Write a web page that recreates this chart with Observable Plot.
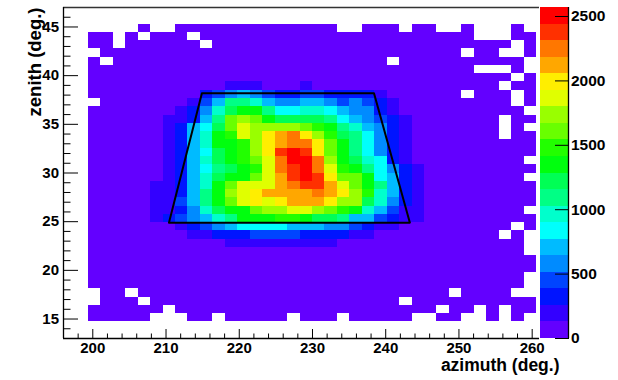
<!DOCTYPE html>
<html>
<head>
<meta charset="utf-8">
<script src="https://cdn.jsdelivr.net/npm/d3@7"></script>
<script src="https://cdn.jsdelivr.net/npm/@observablehq/plot@0.6"></script>
<style>
  html, body { margin: 0; padding: 0; background: #ffffff; }
  #chart { position: relative; width: 618px; height: 380px; font-family: "Liberation Sans", Arial, sans-serif; }
  #chart svg { position: absolute; left: 0; top: 0; overflow: visible; }
</style>
</head>
<body>
<div id="chart"></div>
<script>
// ---- histogram binning ----
const azimuthBinStart = 199.4;   // left edge of first filled column (deg.)
const azimuthBinWidth = 1.7;
const zenithBinStart = 14.7;     // lower edge of bottom row (deg.)
const zenithBinWidth = 0.85;

// ---- colour contour levels of the z axis (20 bands, 0 .. 2570) ----
const zLevels = [0, 128.5, 257, 385.5, 514, 642.5, 771, 899.5, 1028, 1156.5, 1285,
                 1413.5, 1542, 1670.5, 1799, 1927.5, 2056, 2184.5, 2313, 2441.5, 2570];
const paletteColors = ["#6300ff", "#3300ff", "#0014ff", "#0044ff", "#008bff", "#00bbff",
                       "#00fffc", "#00ffcc", "#00ff85", "#00ff55", "#00ff0e", "#22ff00",
                       "#69ff00", "#99ff00", "#e0ff00", "#ffee00", "#ffa700", "#ff7700",
                       "#ff3000", "#ff0000"];
// band code of each cell: '.' = empty bin, 0-9 then a-j = colour band 0..19
const bandCodes = "0123456789abcdefghij";

// ---- bin contents, one string per zenith row, top row first, 36 azimuth bins each ----
const zenithRows = [
  "....0. .00000 000000 00..00 0.00.. 0...0.",
  "00.0.0 00.000 000000 000000 000000 0...00",
  "00.000 000.00 000000 000000 000000 0000.0",
  ".00000 000000 000000 000000 000000 .00..0",
  "0.0000 000000 000000 000000 .00000 00000.",
  "000000 000000 000000 000000 000000 0...0.",
  "000000 000000 000000 000000 000000 0000.0",
  "000000 000001 110001 000000 000000 000.00",
  "000000 000234 543223 322221 000000 .000.0",
  ".00000 001358 875445 543432 100000 0000.0",
  "000000 012479 aa8667 765442 100000 00000.",
  "000000 11258c dca999 986543 210000 000.00",
  "000000 12569c eddddc ba8754 210000 000.0.",
  "000000 1257ab edfghf db9864 210000 000.00",
  "000000 1257aa bdfghh fca864 210000 000000",
  "000000 12569a bdfiji fca864 210000 000000",
  "000000 12579a bcehjj hda976 210000 00000.",
  "000000 125689 abehij heba86 421000 000000",
  "000000 12579a acegij ifcca6 521000 00000.",
  "000001 1257ac eeeghi igeca8 521000 000000",
  "000001 1258ad efgggg hgfdb7 521000 000000",
  "000001 1358ac efefgg gfdd97 421000 000000",
  "000001 12479a acddee dcba75 311000 00000.",
  "000001 234578 aaabba 998553 211000 000000",
  "000000 012345 666655 544321 100000 0000.0",
  "000000 001122 233332 222110 000000 000.0.",
  "000000 000001 111111 110000 000000 00000.",
  "000000 000000 000000 000000 000000 00000.",
  "000000 000000 000000 000000 000000 000000",
  "000000 000000 000000 000000 000000 000000",
  "000000 000000 000000 000000 000000 00000.",
  "000000 000000 000000 000000 000000 00000.",
  ".00.00 000000 000000 000000 00000. 0000..",
  ".000.0 000000 000000 000000 0.0000 000000",
  "000000 .00000 000000 000000 0000.0 0.0.00",
  "00000. ..00.0 0000.0 00.000 00..00 ..0.0."
];

// ---- axes ----
const azimuthDomain = [196, 261];
const zenithDomain = [13, 47];
const xMajorTicks = [200, 210, 220, 230, 240, 250, 260];
const xMinorTicks = [198, 202, 204, 206, 208, 212, 214, 216, 218, 222, 224, 226, 228,
                     232, 234, 236, 238, 242, 244, 246, 248, 252, 254, 256, 258];
const yMajorTicks = [15, 20, 25, 30, 35, 40, 45];
const yMinorTicks = [14, 16, 17, 18, 19, 21, 22, 23, 24, 26, 27, 28, 29, 31, 32, 33, 34,
                     36, 37, 38, 39, 41, 42, 43, 44, 46];
const zTicks = [0, 500, 1000, 1500, 2000, 2500];
const xTitle = "azimuth (deg.)";
const yTitle = "zenith (deg.)";

// ---- selection region (trapezoid) ----
const regionAzimuth = [210.4, 214.9, 238.4, 243.3, 210.4];
const regionZenith  = [24.9, 38.2, 38.2, 24.9, 24.9];

// ---- build tables ----
const cells = [];
zenithRows.forEach((row, t) => {
  const s = row.replace(/ /g, "");
  const y0 = zenithBinStart + (zenithRows.length - 1 - t) * zenithBinWidth;
  [...s].forEach((ch, c) => {
    if (ch === ".") return;
    const k = bandCodes.indexOf(ch);
    const x0 = azimuthBinStart + c * azimuthBinWidth;
    cells.push({az1: x0, az2: x0 + azimuthBinWidth, ze1: y0, ze2: y0 + zenithBinWidth,
                count: (zLevels[k] + zLevels[k + 1]) / 2});
  });
});
const bands = paletteColors.map((_, k) => ({lo: zLevels[k], hi: zLevels[k + 1], mid: (zLevels[k] + zLevels[k + 1]) / 2}));
const region = regionAzimuth.map((a, i) => ({az: a, ze: regionZenith[i]}));

const colorScale = {type: "threshold", domain: zLevels.slice(1, -1), range: paletteColors};
const font = "'Liberation Sans', Arial, Helvetica, sans-serif";
const W = 618, H = 380;
const labelStyle = {fontSize: 15, fontWeight: "bold", fill: "black", fontFamily: font};

const main = Plot.plot({
  width: W, height: H,
  marginLeft: 63, marginRight: 79, marginTop: 7, marginBottom: 42,
  x: {domain: azimuthDomain},
  y: {domain: zenithDomain},
  color: colorScale,
  style: {fontFamily: font, color: "black", background: "transparent", overflow: "visible"},
  marks: [
    Plot.rect(cells, {x1: "az1", x2: "az2", y1: "ze1", y2: "ze2", fill: "count", shapeRendering: "crispEdges"}),
    Plot.line(region, {x: "az", y: "ze", stroke: "black", strokeWidth: 2}),
    Plot.ruleY([zenithDomain[1]], {stroke: "#333", strokeWidth: 1.3}),
    Plot.ruleY([zenithDomain[0]], {stroke: "black", strokeWidth: 1.3}),
    Plot.ruleX([azimuthDomain[0]], {stroke: "black", strokeWidth: 1.3}),
    Plot.axisX(xMajorTicks, {tickSize: -9, fill: "none", label: null, tickFormat: () => ""}),
    Plot.axisX(xMinorTicks, {tickSize: -4.5, fill: "none", label: null, tickFormat: () => ""}),
    Plot.axisY(yMajorTicks, {tickSize: -15, fill: "none", label: null, tickFormat: () => ""}),
    Plot.axisY(yMinorTicks, {tickSize: -7.5, fill: "none", label: null, tickFormat: () => ""}),
    Plot.text(xMajorTicks, {x: d => d, text: d => String(d), frameAnchor: "bottom", lineAnchor: "top", dy: 3.5, ...labelStyle}),
    Plot.text(yMajorTicks, {y: d => d, text: d => String(d), frameAnchor: "left", textAnchor: "end", dx: -4.5, ...labelStyle}),
    Plot.text([xTitle], {text: d => d, frameAnchor: "bottom-right", dx: 20, dy: 32.9, textAnchor: "end", fontSize: 17.5, fontWeight: "bold", fill: "black"}),
    Plot.text([yTitle], {text: d => d, frameAnchor: "top-left", dx: -35.4, dy: 0, rotate: -90, textAnchor: "end", fontSize: 18.5, fontWeight: "bold", fill: "black"})
  ]
});

const bar = Plot.plot({
  width: W, height: H,
  marginLeft: 540, marginRight: 50, marginTop: 7, marginBottom: 42,
  x: {domain: [0, 1], axis: null},
  y: {domain: [zLevels[0], zLevels[zLevels.length - 1]], axis: null},
  color: colorScale,
  style: {fontFamily: font, color: "black", background: "transparent", overflow: "visible"},
  marks: [
    Plot.rect(bands, {y1: "lo", y2: "hi", fill: "mid", shapeRendering: "crispEdges"}),
    Plot.ruleX([1], {stroke: "black", strokeWidth: 1.3}),
    Plot.axisY(zTicks, {anchor: "right", tickSize: -14, fill: "none", label: null, tickFormat: () => ""}),
    Plot.text(zTicks, {y: d => d, text: d => String(d), frameAnchor: "right", textAnchor: "start", dx: 2.5, ...labelStyle, fontSize: 15.5})
  ]
});

const chart = document.getElementById("chart");
chart.appendChild(main);
chart.appendChild(bar);
</script>
</body>
</html>
